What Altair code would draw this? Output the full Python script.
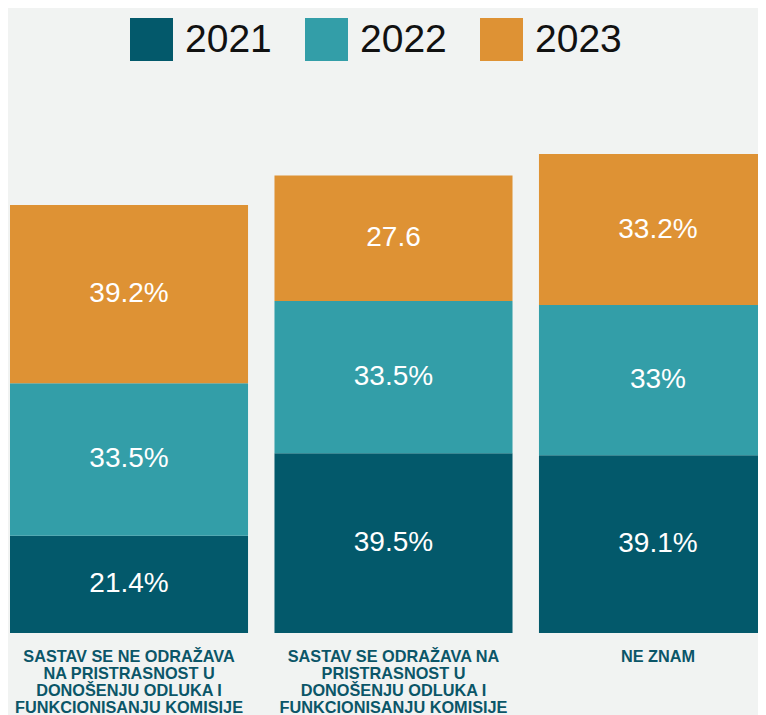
import altair as alt
import pandas as pd

categories = [
    "SASTAV SE NE ODRAŽAVA|NA PRISTRASNOST U|DONOŠENJU ODLUKA I|FUNKCIONISANJU KOMISIJE",
    "SASTAV SE ODRAŽAVA NA|PRISTRASNOST U|DONOŠENJU ODLUKA I|FUNKCIONISANJU KOMISIJE",
    "NE ZNAM",
]
years = ["2021", "2022", "2023"]
values_2021 = [21.4, 39.5, 39.1]
values_2022 = [33.5, 33.5, 33.0]
values_2023 = [39.2, 27.6, 33.2]
labels_2021 = ["21.4%", "39.5%", "39.1%"]
labels_2022 = ["33.5%", "33.5%", "33%"]
labels_2023 = ["39.2%", "27.6", "33.2%"]
colors = ["#03596b", "#339ea8", "#de9234"]

rows = []
for yi, (yr, vals, labs) in enumerate(zip(years, [values_2021, values_2022, values_2023],
                                          [labels_2021, labels_2022, labels_2023])):
    for c, v, l in zip(categories, vals, labs):
        rows.append({"category": c, "year": yr, "value": v, "label": l, "order": yi})
df = pd.DataFrame(rows)

base = alt.Chart(df).transform_stack(
    stack="value", groupby=["category"], as_=["y0", "y1"],
    sort=[alt.SortField("order", order="ascending")]
).transform_calculate(mid="(datum.y0 + datum.y1) / 2")

x_scale = alt.Scale(paddingInner=0.1, paddingOuter=0, range=[0, 767])

x_enc = alt.X(
    "category:N", sort=categories, title=None,
    scale=x_scale,
    axis=alt.Axis(
        labelAngle=0, domain=False, ticks=False,
        labelExpr="split(datum.label, '|')",
        labelFont="Liberation Sans", labelFontWeight="bold", labelFontSize=16.3,
        labelColor="#0b5668", labelLineHeight=17, labelPadding=15,
        labelBaseline="top", labelLimit=400,
    ),
)

ymax = 137.4

bars = base.mark_bar().encode(
    x=x_enc,
    y=alt.Y("y0:Q", scale=alt.Scale(domain=[0, ymax], nice=False), axis=None),
    y2="y1:Q",
    color=alt.Color(
        "year:N", scale=alt.Scale(domain=years, range=colors),
        legend=alt.Legend(
            title=None, orient="none", direction="horizontal", columns=3,
            legendX=120, legendY=10, padding=0,
            symbolType="square", symbolSize=1849, symbolStrokeWidth=0, symbolOpacity=1,
            labelFontSize=39, labelFont="Liberation Sans", labelColor="#111111",
            labelOffset=12, columnPadding=33, labelLimit=300,
        ),
    ),
)

texts = base.mark_text(color="white", fontSize=28, font="Liberation Sans", baseline="middle").encode(
    x=alt.X("category:N", sort=categories, scale=x_scale),
    y=alt.Y("mid:Q"),
    text="label:N",
)

chart = alt.layer(bars, texts).properties(
    width=748, height=625,
    autosize=alt.AutoSizeParams(type="none"),
    padding={"left": 2, "top": 0, "right": 0, "bottom": 82},
    background="#f1f3f2",
).configure_view(stroke=None)

chart.save("out.html", embed_options={"renderer": "svg", "actions": False})
